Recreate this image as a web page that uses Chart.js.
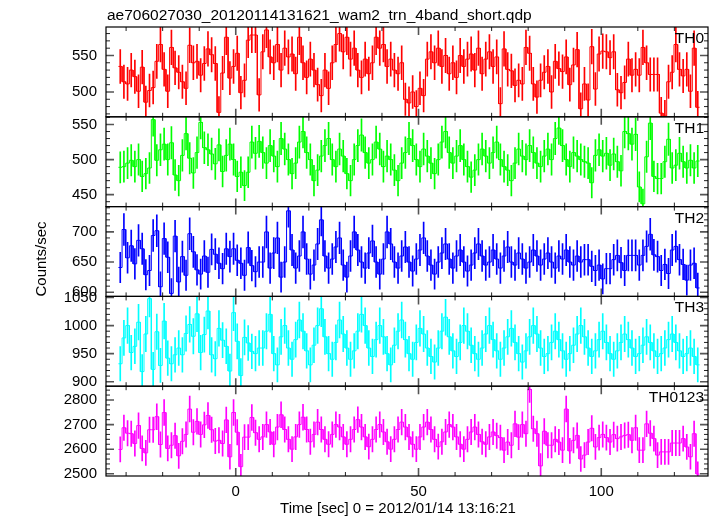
<!DOCTYPE html>
<html><head><meta charset="utf-8">
<script src="https://cdn.jsdelivr.net/npm/chart.js@4"></script>
<style>html,body{margin:0;padding:0;background:#fff;}#wrap{width:717px;height:516px;position:relative;}</style>
</head><body><div id="wrap"><canvas id="c" width="717" height="516"></canvas></div>
<script>
const TITLE = "ae706027030_20120114131621_wam2_trn_4band_short.qdp";
const X_TITLE = "Time [sec] 0 = 2012/01/14 13:16:21";
const Y_TITLE = "Counts/sec";
const PANEL_NAMES = ["TH0", "TH1", "TH2", "TH3", "TH0123"];
const BIN_START = -31.6;   // centre of first 1-s bin
const BIN_WIDTH = 1.0;
const X_MIN = -35.5, X_MAX = 129.2;
const X_TICKS = [0, 50, 100];

const th0 = [535,514,511,530,521,501,534,486,502,506,542,565,531,501,561,533,527,514,505,564,540,542,523,539,559,551,539,472,526,575,519,535,553,499,516,571,578,578,496,
555,585,548,540,565,530,560,548,552,525,575,540,520,545,530,510,495,530,505,540,565,580,555,575,545,560,530,520,545,525,540,575,560,565,535,545,530,525,540,490,485,500,480,505,495,545,555,540,560,535,550,525,540,520,550,535,545,552,530,560,525,545,555,535,548,
484,559,531,529,509,516,511,561,553,511,493,516,527,535,500,542,532,528,548,510,537,558,477,511,489,562,504,552,556,555,547,555,503,499,513,545,523,531,523,561,540,524,524,524,471,467,514,527,565,531,522,531,501,560,479];

const th1 = [489,490,495,499,490,500,476,480,488,557,499,514,522,500,524,478,470,506,537,502,481,510,553,517,514,508,494,521,483,506,522,500,476,482,463,482,525,509,526,
510,495,520,505,490,530,515,500,480,495,525,540,510,500,470,485,505,520,530,500,490,515,505,480,470,500,520,535,510,495,500,525,515,490,505,500,485,470,495,510,530,520,500,490,515,505,495,480,500,525,540,510,495,505,520,500,490,475,485,500,515,505,495,510,525,500,490,485,470,495,515,505,500,520,510,495,490,505,515,500,530,545,520,500,490,510,505,
500,497,495,467,506,514,505,509,492,508,497,484,540,537,522,536,461,437,504,552,476,473,473,497,529,488,492,509,497,488,499,488,498];

const th2 = [641,704,657,677,647,686,672,629,636,694,702,609,689,658,598,693,617,659,628,697,667,637,630,660,633,671,663,648,639,672,659,672,653,648,628,674,644,634,650,
650,700,640,665,690,625,650,735,670,640,660,700,655,630,645,680,720,660,640,655,675,690,645,625,660,700,670,650,640,665,685,650,630,655,700,680,650,640,660,675,650,635,655,670,690,660,645,630,650,665,680,655,640,660,670,650,635,645,665,680,660,645,650,670,655,640,660,675,650,645,665,655,640,650,670,660,645,655,665,650,640,660,655,670,650,645,660,
650,654,654,643,636,645,622,639,639,654,661,649,636,661,661,661,645,661,676,696,662,659,636,646,631,670,676,654,646,620,645,648,607];

const th3 = [932,978,1000,952,963,1006,918,985,1048,922,989,929,1008,942,932,948,960,948,986,1002,981,1021,952,984,1026,948,941,995,974,963,919,1023,972,911,979,969,954,950,960,
960,990,1020,950,930,980,1000,960,940,975,1010,990,955,930,965,1000,1030,980,950,940,970,1010,985,960,940,955,990,1020,1000,960,945,975,1000,980,950,930,965,990,1010,975,950,940,970,995,985,960,945,935,960,990,1015,980,955,945,970,1000,990,965,950,940,960,985,1000,975,955,940,960,980,995,970,950,935,955,980,1000,985,960,945,950,970,990,975,955,940,950,965,985,1000,980,960,945,955,975,990,970,950,940,955,970,985,975,960,945,950,965,980,970,955,945,950,960,975,985,970,955,945,950,960,945,930];

const th0123 = [2599,2687,2665,2663,2623,2696,2603,2585,2679,2679,2732,2619,2749,2603,2616,2655,2573,2632,2660,2763,2669,2713,2660,2699,2737,2679,2633,2636,2623,2719,2569,2749,2669,2529,2649,2649,2729,2667,2640,
2650,2700,2670,2620,2690,2740,2680,2640,2600,2650,2700,2730,2680,2630,2660,2710,2680,2640,2620,2660,2700,2690,2650,2620,2640,2680,2720,2690,2650,2610,2640,2680,2700,2670,2630,2600,2640,2680,2710,2690,2650,2620,2600,2650,2690,2710,2680,2640,2610,2630,2670,2700,2690,2650,2620,2600,2640,2670,2690,2660,2630,2620,2650,2670,2655,
2647,2596,2629,2616,2703,2649,2700,2663,2843,2683,2663,2532,2673,2616,2616,2640,2629,2596,2763,2593,2636,2656,2560,2576,2629,2685,2609,2647,2660,2647,2629,2659,2643,2650,2656,2659,2636,2687,2596,2596,2703,2665,2643,2576,2589,2589,2589,2625,2625,2625,2643,2609,2569,2663,2499];

const SERIES = [th0, th1, th2, th3, th0123];
const Y_RANGES = [[466, 589], [433, 561], [593, 742], [892, 1052], [2491, 2856]];
const Y_TICKS = [[500, 550], [450, 500, 550], [600, 650, 700], [900, 950, 1000, 1050], [2500, 2600, 2700, 2800]];
const Y_MINOR = [10, 10, 10, 10, 20];
const Y_MAJOR = [50, 50, 50, 50, 100];
const COLORS = ['#ff0000', '#00ff00', '#0000ff', '#00ffff', '#ff00ff'];

const FONT = "'Liberation Sans', Arial, Helvetica, sans-serif";

function binCentre(i) { return BIN_START + i * BIN_WIDTH; }
function stepPoints(vals) {
  const pts = [];
  vals.forEach((v, i) => {
    const c = binCentre(i);
    pts.push({x: c - BIN_WIDTH / 2, y: v});
    pts.push({x: c + BIN_WIDTH / 2, y: v});
  });
  return pts;
}
function errorBars(vals) {
  // Poisson error of a 1-s bin: sqrt(counts)/binwidth
  return vals.map((v, i) => {
    const e = Math.sqrt(v * BIN_WIDTH) / BIN_WIDTH;
    return {x: binCentre(i), y: [v - e, v + e]};
  });
}

const datasets = [];
const scales = {
  x: {
    type: 'linear', min: X_MIN, max: X_MAX, offset: false,
    grid: {display: false, drawTicks: false, offset: false}, border: {display: false},
    ticks: {font: {family: FONT, size: 15}, color: '#000', padding: 7, maxRotation: 0, autoSkip: false,
            callback: v => String(v)},
    afterBuildTicks: s => { s.ticks = X_TICKS.map(v => ({value: v})); },
    afterFit: s => { s.height = 40; }
  }
};
for (let k = SERIES.length - 1; k >= 0; k--) {
  const id = 'y' + k;
  scales[id] = {
    type: 'linear', position: 'left', stack: 'panels', stackWeight: 1,
    min: Y_RANGES[k][0], max: Y_RANGES[k][1], beginAtZero: false, offset: false,
    grid: {display: false, drawTicks: false}, border: {display: false},
    ticks: {font: {family: FONT, size: 15}, color: '#000', padding: 9, autoSkip: false,
            callback: v => String(v)},
    afterBuildTicks: s => { s.ticks = Y_TICKS[k].map(v => ({value: v})); },
    afterFit: s => { s.width = 106; }
  };
}
SERIES.forEach((vals, k) => {
  datasets.push({
    type: 'bar', label: PANEL_NAMES[k] + ' err', data: errorBars(vals), yAxisID: 'y' + k, xAxisID: 'x',
    backgroundColor: COLORS[k], borderWidth: 0, barThickness: 1, grouped: false
  });
  datasets.push({
    type: 'line', label: PANEL_NAMES[k], data: stepPoints(vals), yAxisID: 'y' + k, xAxisID: 'x',
    borderColor: COLORS[k], borderWidth: 1, pointRadius: 0, tension: 0, fill: false,
    borderJoinStyle: 'miter'
  });
});

const panelClip = {
  id: 'panelClip',
  beforeDatasetDraw(chart, args) {
    const ds = chart.data.datasets[args.index];
    const sc = chart.scales[ds.yAxisID];
    const ca = chart.chartArea, ctx = chart.ctx;
    ctx.save();
    ctx.beginPath();
    ctx.rect(ca.left, sc.top, ca.right - ca.left, sc.bottom - sc.top);
    ctx.clip();
  },
  afterDatasetDraw(chart) { chart.ctx.restore(); }
};

const frames = {
  id: 'frames',
  afterDraw(chart) {
    const ctx = chart.ctx, ca = chart.chartArea, xs = chart.scales.x;
    ctx.save();
    for (let k = 0; k < SERIES.length; k++) {
      const sc = chart.scales['y' + k];
      const top = sc.top, bot = sc.bottom;
      const step = Y_MINOR[k];
      for (let v = Math.ceil(sc.min / step) * step; v <= sc.max; v += step) {
        const y = sc.getPixelForValue(v);
        const major = (v % Y_MAJOR[k] === 0);
        const len = major ? 8 : 4;
        ctx.strokeStyle = major ? '#555' : '#222';
        ctx.lineWidth = major ? 1.6 : 1;
        ctx.beginPath();
        ctx.moveTo(ca.left, y); ctx.lineTo(ca.left + len, y);
        ctx.moveTo(ca.right, y); ctx.lineTo(ca.right - len, y);
        ctx.stroke();
      }
      for (let v = Math.ceil(X_MIN / 10) * 10; v <= X_MAX; v += 10) {
        const x = xs.getPixelForValue(v);
        const major = (v % 50 === 0);
        const len = major ? 8 : 4;
        ctx.strokeStyle = major ? '#555' : '#222';
        ctx.lineWidth = major ? 1.6 : 1;
        ctx.beginPath();
        ctx.moveTo(x, top); ctx.lineTo(x, top + len);
        ctx.moveTo(x, bot); ctx.lineTo(x, bot - len);
        ctx.stroke();
      }
      ctx.strokeStyle = '#000';
      ctx.lineWidth = 1.2;
      ctx.strokeRect(ca.left, top, ca.right - ca.left, bot - top);
      ctx.fillStyle = '#000';
      ctx.font = '15.5px ' + FONT;
      ctx.textAlign = 'right';
      ctx.textBaseline = 'alphabetic';
      ctx.fillText(PANEL_NAMES[k], ca.right - 4, top + 16);
    }
    ctx.fillStyle = '#000';
    ctx.font = '15.5px ' + FONT;
    ctx.textAlign = 'left';
    ctx.textBaseline = 'alphabetic';
    ctx.fillText(TITLE, 107, 20);
    ctx.font = '15px ' + FONT;
    ctx.textAlign = 'center';
    ctx.fillText(X_TITLE, 398, 513);
    ctx.save();
    ctx.translate(46, 259);
    ctx.rotate(-Math.PI / 2);
    ctx.textAlign = 'center';
    ctx.textBaseline = 'alphabetic';
    ctx.fillText(Y_TITLE, 0, 0);
    ctx.restore();
    ctx.restore();
  }
};

new Chart(document.getElementById('c'), {
  type: 'line',
  data: {datasets},
  options: {
    responsive: false, animation: false, devicePixelRatio: 1,
    layout: {padding: {left: 0, right: 9, top: 27, bottom: 0}},
    plugins: {legend: {display: false}, tooltip: {enabled: false}, title: {display: false}},
    events: [],
    scales
  },
  plugins: [panelClip, frames]
});
</script></body></html>
